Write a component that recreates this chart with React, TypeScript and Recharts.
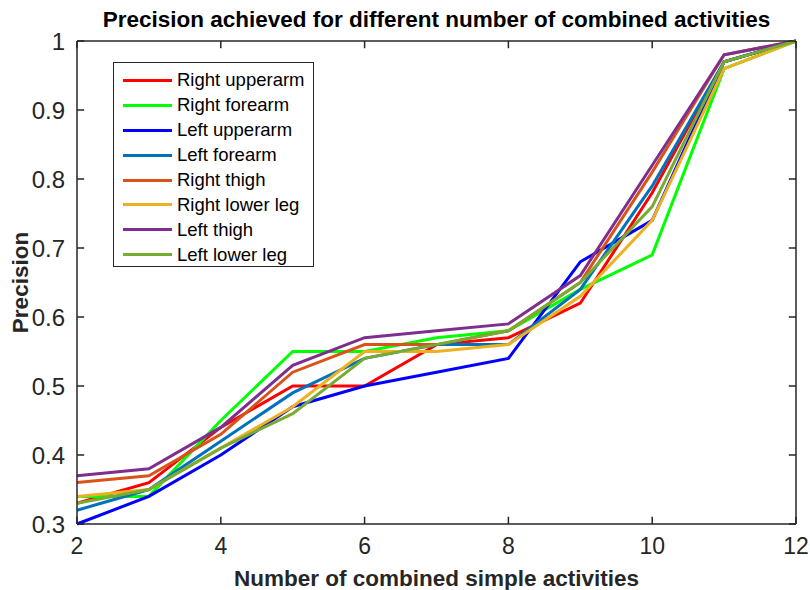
import React from 'react';
import { ComposedChart, Line, XAxis, YAxis, Legend, Label } from 'recharts';

// Number of combined simple activities
const activityCounts = [2, 3, 4, 5, 6, 7, 8, 9, 10, 11, 12];

// Precision per sensor placement
const rightUpperarm = [0.33, 0.36, 0.44, 0.5, 0.5, 0.56, 0.57, 0.62, 0.78, 0.97, 1];
const rightForearm = [0.34, 0.34, 0.45, 0.55, 0.55, 0.57, 0.58, 0.64, 0.69, 0.96, 1];
const leftUpperarm = [0.3, 0.34, 0.4, 0.47, 0.5, 0.52, 0.54, 0.68, 0.74, 0.97, 1];
const leftForearm = [0.32, 0.35, 0.42, 0.49, 0.54, 0.56, 0.56, 0.64, 0.79, 0.97, 1];
const rightThigh = [0.36, 0.37, 0.43, 0.52, 0.56, 0.56, 0.58, 0.65, 0.81, 0.98, 1];
const rightLowerLeg = [0.34, 0.35, 0.41, 0.47, 0.55, 0.55, 0.56, 0.63, 0.74, 0.96, 1];
const leftThigh = [0.37, 0.38, 0.44, 0.53, 0.57, 0.58, 0.59, 0.66, 0.82, 0.98, 1];
const leftLowerLeg = [0.33, 0.35, 0.41, 0.46, 0.54, 0.56, 0.58, 0.65, 0.76, 0.97, 1];

const xTicks = [2, 4, 6, 8, 10, 12];
const yTicks = [0.3, 0.4, 0.5, 0.6, 0.7, 0.8, 0.9, 1];
const X_DOMAIN: [number, number] = [2, 12];
const Y_DOMAIN: [number, number] = [0.3, 1];

const series = [
  { key: 'ru', name: 'Right upperarm', values: rightUpperarm, color: '#FF0000' },
  { key: 'rf', name: 'Right forearm', values: rightForearm, color: '#00FF00' },
  { key: 'lu', name: 'Left upperarm', values: leftUpperarm, color: '#0000FF' },
  { key: 'lf', name: 'Left forearm', values: leftForearm, color: '#0072BD' },
  { key: 'rt', name: 'Right thigh', values: rightThigh, color: '#D95319' },
  { key: 'rl', name: 'Right lower leg', values: rightLowerLeg, color: '#EDB120' },
  { key: 'lt', name: 'Left thigh', values: leftThigh, color: '#7E2F8E' },
  { key: 'll', name: 'Left lower leg', values: leftLowerLeg, color: '#77AC30' },
];

const seriesRows = activityCounts.map((x, i) => {
  const row: Record<string, number | null> = { x };
  series.forEach((s) => {
    row[s.key] = s.values[i];
  });
  return row;
});

// inward tick mark length, as a fraction of each axis span
const TICK_DY = (Y_DOMAIN[1] - Y_DOMAIN[0]) * 0.015;
const TICK_DX = (X_DOMAIN[1] - X_DOMAIN[0]) * 0.01;

// frame tick marks as two-point runs of the "tk" key, separated by null rows
const tickPairs: [number, number, number, number][] = [
  ...xTicks.map((x) => [x, Y_DOMAIN[0], x, Y_DOMAIN[0] + TICK_DY] as [number, number, number, number]),
  ...xTicks.map((x) => [x, Y_DOMAIN[1], x, Y_DOMAIN[1] - TICK_DY] as [number, number, number, number]),
  ...yTicks.map((v) => [X_DOMAIN[0], v, X_DOMAIN[0] + TICK_DX, v] as [number, number, number, number]),
  ...yTicks.map((v) => [X_DOMAIN[1], v, X_DOMAIN[1] - TICK_DX, v] as [number, number, number, number]),
];
const tickRows = tickPairs.flatMap(([x1, v1, x2, v2]) => [
  { x: x1, tk: v1 },
  { x: x2, tk: v2 },
  { x: x2, tk: null },
]);

const data = [...seriesRows, ...tickRows];

const FONT = '"Liberation Sans", Arial, Helvetica, sans-serif';
const AXIS = '#262626';
const LABEL_STYLE = { fontSize: 22.5, fontWeight: 'bold', fill: AXIS, fontFamily: FONT };
const FRAME = { stroke: AXIS, strokeWidth: 1.5 };

// Legend entries keep the plotting order of the series
const LegendBox = (props: any) => {
  const items = [...(props.payload || [])]
    .filter((it: any) => series.some((s) => s.name === it.value))
    .sort(
      (a: any, b: any) =>
        series.findIndex((s) => s.name === a.value) - series.findIndex((s) => s.name === b.value)
    );
  return (
    <div
      style={{
        boxSizing: 'border-box',
        width: 201,
        height: 205,
        border: '1px solid #262626',
        background: '#fff',
        padding: '5px 0 0 9px',
        fontFamily: FONT,
        fontSize: 18.5,
        color: '#000',
      }}
    >
      {items.map((it: any) => (
        <div key={it.value} style={{ display: 'flex', alignItems: 'center', height: 24.9 }}>
          <div style={{ width: 49, height: 3, background: it.color, marginRight: 5, flex: 'none' }} />
          <span style={{ lineHeight: '20px', whiteSpace: 'nowrap' }}>{it.value}</span>
        </div>
      ))}
    </div>
  );
};

const blank = () => '';

export default function App() {
  return (
    <div style={{ position: 'absolute', left: 0, top: 0, width: 810, height: 590, background: '#fff' }}>
      <ComposedChart
        width={810}
        height={590}
        data={data}
        margin={{ top: 41, right: 14, bottom: 36, left: 0 }}
      >
        <XAxis
          xAxisId="b"
          dataKey="x"
          type="number"
          domain={X_DOMAIN}
          ticks={xTicks}
          height={30}
          tickLine={false}
          tickSize={0}
          tickMargin={14}
          axisLine={FRAME}
          tick={{ fontSize: 23, fill: AXIS, fontFamily: FONT }}
        >
          <Label value="Number of combined simple activities" position="bottom" offset={16} style={LABEL_STYLE} />
        </XAxis>
        <XAxis
          xAxisId="t"
          dataKey="x"
          type="number"
          domain={X_DOMAIN}
          ticks={xTicks}
          orientation="top"
          mirror
          tickLine={false}
          axisLine={FRAME}
          tickFormatter={blank}
        >
          <Label
            value="Precision achieved for different number of combined activities"
            position="top"
            offset={14}
            style={{ ...LABEL_STYLE, fill: '#000' }}
          />
        </XAxis>
        <YAxis
          yAxisId="l"
          type="number"
          domain={Y_DOMAIN}
          ticks={yTicks}
          width={77}
          tickSize={0}
          tickMargin={12}
          tickLine={false}
          axisLine={FRAME}
          tick={{ fontSize: 24, fill: AXIS, fontFamily: FONT }}
          tickFormatter={(v: number) => String(v)}
        >
          <Label
            content={(p: any) => {
              const vb = p.viewBox;
              const cx = vb.x + 20;
              const cy = vb.y + vb.height / 2;
              return (
                <text
                  x={cx}
                  y={cy}
                  transform={`rotate(-90 ${cx} ${cy})`}
                  textAnchor="middle"
                  dominantBaseline="central"
                  style={LABEL_STYLE}
                >
                  Precision
                </text>
              );
            }}
          />
        </YAxis>
        <YAxis
          yAxisId="r"
          type="number"
          domain={Y_DOMAIN}
          ticks={yTicks}
          orientation="right"
          mirror
          tickLine={false}
          axisLine={FRAME}
          tickFormatter={blank}
        />
        <Legend
          layout="vertical"
          align="center"
          verticalAlign="middle"
          content={LegendBox}
          wrapperStyle={{ left: 113, top: 62, width: 201, height: 205 }}
        />
        {/* frame tick marks */}
        <Line
          xAxisId="b"
          yAxisId="l"
          dataKey="tk"
          stroke={AXIS}
          strokeWidth={1.5}
          connectNulls={false}
          dot={false}
          activeDot={false}
          legendType="none"
          isAnimationActive={false}
        />
        {series.map((s) => (
          <Line
            key={s.key}
            xAxisId="b"
            yAxisId="l"
            dataKey={s.key}
            name={s.name}
            stroke={s.color}
            strokeWidth={3}
            dot={false}
            activeDot={false}
            isAnimationActive={false}
          />
        ))}
        {/* invisible series binding the frame axes (top / right) */}
        <Line
          xAxisId="t"
          yAxisId="r"
          dataKey="ll"
          stroke="none"
          dot={false}
          activeDot={false}
          legendType="none"
          isAnimationActive={false}
        />
      </ComposedChart>
    </div>
  );
}
